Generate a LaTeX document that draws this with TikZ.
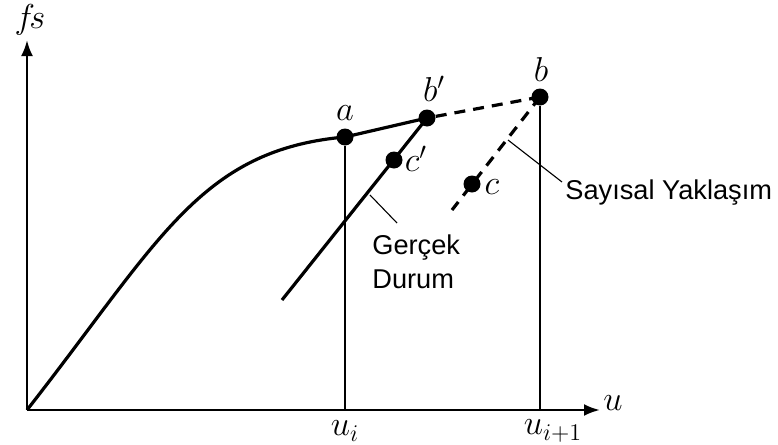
\documentclass[tikz,border=0pt]{standalone}
\usepackage{fontspec}
\setmainfont{Liberation Serif}
\newfontfamily\labelfont{Liberation Sans}
\usetikzlibrary{arrows.meta}
\tikzset{
  pt/.style={circle,fill=black,inner sep=0pt,minimum size=8.5pt},
  axis/.style={line width=1.3pt,-{Latex[length=8pt,width=6pt]}},
  path/.style={line width=1.6pt},
  guess/.style={line width=1.6pt,dash pattern=on 5.5pt off 4pt},
  grid/.style={line width=0.7pt},
  lead/.style={line width=0.55pt},
  sym/.style={font=\fontsize{16.5}{18}\selectfont},
  txt/.style={font=\labelfont\fontsize{13.6}{17}\selectfont,align=left,inner sep=0pt}
}
\begin{document}
\begin{tikzpicture}[x=0.5pt,y=-0.5pt]
\useasboundingbox (0,0) rectangle (778,445);

% axes
\coordinate (o) at (27,410);
\coordinate (ytip) at (27,40);
\coordinate (xtip) at (600,410);
\draw[axis] (o) -- (ytip);
\draw[axis] (o) -- (xtip);
\node[sym] (fs) at (30,20) {$f\!s$};
\node[sym] (ulab) at (613,403) {$u$};

% points
\node[pt] (a) at (345,137) {};
\node[pt] (bp) at (427,118) {};
\node[pt] (b) at (540,97) {};
\node[pt] (cp) at (394,160) {};
\node[pt] (c) at (472,184) {};
\coordinate (ui) at (345,410);
\coordinate (uj) at (540,410);
\coordinate (dn) at (282,300);
\coordinate (dd) at (452,210);

% verticals
\draw[grid] (ui) -- (a);
\draw[grid] (uj) -- (b);
\node[sym] (uilab) at (345,431) {$u_i$};
\node[sym] (ujlab) at (553,431) {$u_{i+1}$};

% real response
\draw[path] (o) .. controls (160,240) and (200,150) .. (a.center) -- (bp.center);
\draw[path] (bp.center) -- (dn);

% numerical estimate
\draw[guess] (bp) -- (b.center);
\draw[guess] (b.center) -- (dd);

\node[sym] (alab) at (345,113) {$a$};
\node[sym] (bplab) at (434,89) {$b'$};
\node[sym] (blab) at (541,69) {$b$};
\node[sym] (cplab) at (416,159) {$c'$};
\node[sym] (clab) at (492,187) {$c$};

% labels
\coordinate (g1) at (370,195);
\coordinate (g2) at (397,223);
\draw[lead] (g1) -- (g2);
\node[txt,anchor=west] (gercek) at (372,262) {Gerçek\\Durum};

\coordinate (s1) at (508,140);
\coordinate (s2) at (562,182);
\draw[lead] (s1) -- (s2);
\node[txt,anchor=west] (sayisal) at (565,193) {Sayısal Yaklaşım};
\end{tikzpicture}
\end{document}
